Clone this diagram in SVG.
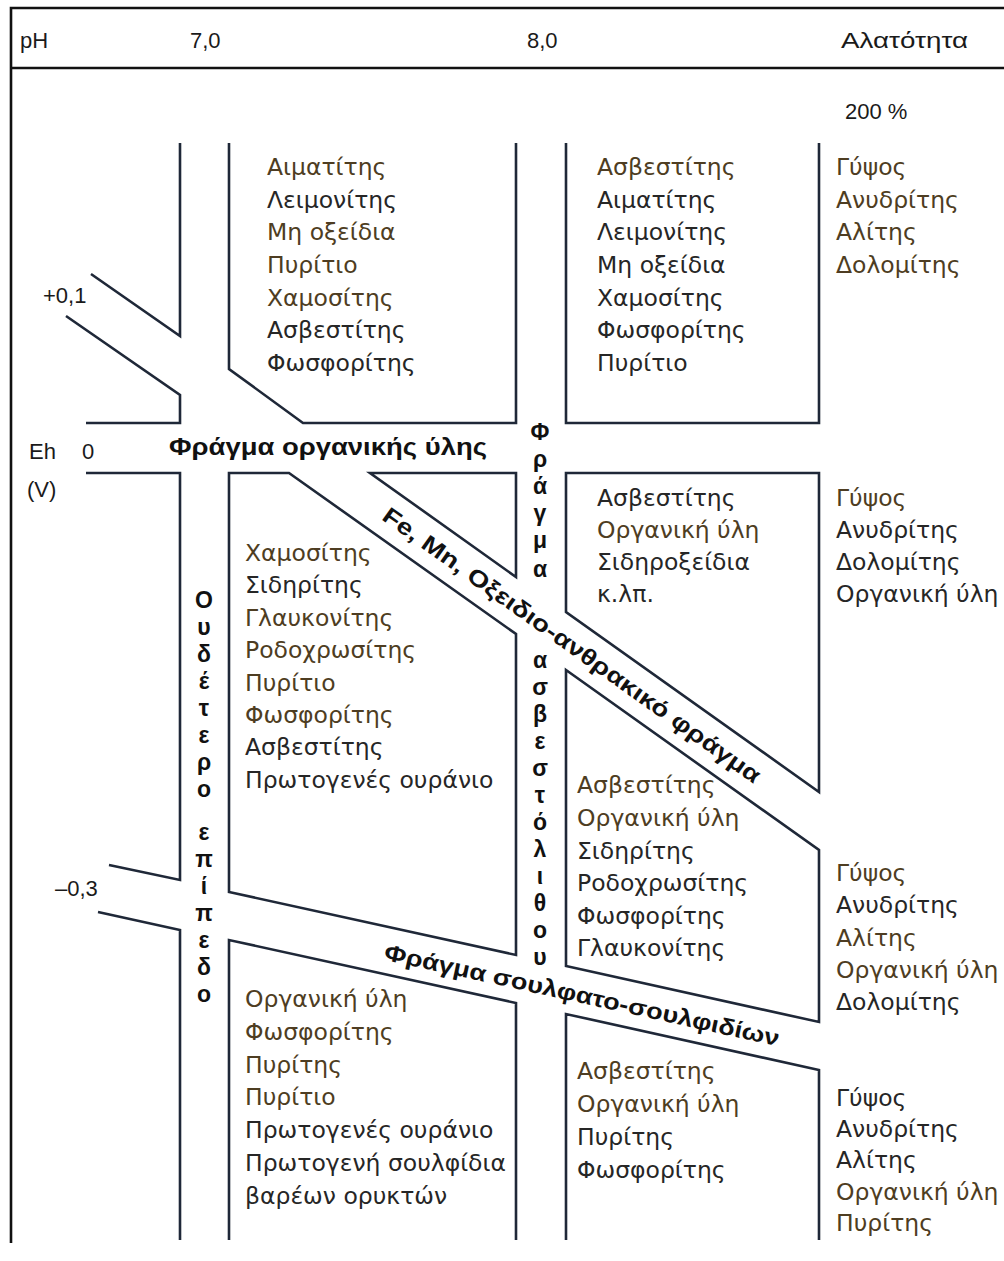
<svg xmlns="http://www.w3.org/2000/svg" width="1004" height="1261" viewBox="0 0 1004 1261">
<style>
.ln{fill:none;stroke:#1f2838;stroke-width:2.6;stroke-linejoin:miter}
.fr{fill:none;stroke:#111;stroke-width:2.6}
.hd{font-family:"Liberation Sans",Arial,sans-serif;font-size:22px;fill:#1a1a1a}
.m{font-family:"DejaVu Sans","Noto Sans",sans-serif;font-size:23.5px;fill:#262626}
.b{fill:#4e3d22}
.bd{font-family:"Liberation Sans",Arial,sans-serif;font-size:23px;font-weight:bold;fill:#111}
.vt{font-family:"Liberation Sans",Arial,sans-serif;font-size:23px;font-weight:bold;fill:#111;text-anchor:middle}
</style>
<rect width="1004" height="1261" fill="#ffffff"/>
<g id="frame">
<path class="fr" d="M1004,8 H11 V1243"/>
<path class="fr" d="M11,68 H1004"/>
</g>
<g id="header">
<text class="hd" x="20" y="48">pH</text>
<text class="hd" x="190" y="48">7,0</text>
<text class="hd" x="527" y="48">8,0</text>
<text class="hd" x="841" y="48" textLength="127" lengthAdjust="spacingAndGlyphs">Αλατότητα</text>
<text class="hd" x="845" y="119">200 %</text>
</g>
<g id="axis">
<text class="hd" x="43" y="303">+0,1</text>
<text class="hd" x="29" y="459">Eh</text>
<text class="hd" x="82" y="459">0</text>
<text class="hd" x="27" y="497">(V)</text>
<text class="hd" x="55" y="896">–0,3</text>
</g>
<g id="connectors">
<path class="ln" d="M180,143 V336 L91,274"/>
<path class="ln" d="M66,316 L180,395 V423 H86"/>
<path class="ln" d="M86,473 H180 V880 L109,865"/>
<path class="ln" d="M98,912 L180,930 V1240"/>
<path class="ln" d="M229,143 V369 L303,423 H516 V143"/>
<path class="ln" d="M566,143 V423 H819 V143"/>
<path class="ln" d="M289,473 L516,634 V955 L229,892 V473 Z"/>
<path class="ln" d="M370,473 H516 V577 Z"/>
<path class="ln" d="M566,612 V473 H819 V792 Z"/>
<path class="ln" d="M566,670 L819,850 V1022 L566,966 Z"/>
<path class="ln" d="M229,1240 V940 L516,1003 V1240"/>
<path class="ln" d="M566,1240 V1014 L819,1070 V1240"/>
</g>
<g id="barrier-organic">
<text class="bd" x="169" y="455" textLength="318" lengthAdjust="spacingAndGlyphs">Φράγμα οργανικής ύλης</text>
</g>
<g id="barrier-fe-mn">
<text class="bd" transform="translate(572,645) rotate(35.4)" x="0" y="8" text-anchor="middle" textLength="458" lengthAdjust="spacingAndGlyphs">Fe, Mn, Οξειδιο-ανθρακικό φράγμα</text>
</g>
<g id="barrier-sulfate">
<text class="bd" transform="translate(582,995) rotate(12.4)" x="0" y="8" text-anchor="middle" textLength="404" lengthAdjust="spacingAndGlyphs">Φράγμα σουλφατο-σουλφιδίων</text>
</g>
<g id="barrier-limestone">
<text class="vt"><tspan x="540" y="440">Φ</tspan><tspan x="540" y="467">ρ</tspan><tspan x="540" y="494">ά</tspan><tspan x="540" y="521">γ</tspan><tspan x="540" y="548">μ</tspan><tspan x="540" y="577">α</tspan><tspan x="540" y="668">α</tspan><tspan x="540" y="695">σ</tspan><tspan x="540" y="722">β</tspan><tspan x="540" y="749">ε</tspan><tspan x="540" y="776">σ</tspan><tspan x="540" y="803">τ</tspan><tspan x="540" y="830">ό</tspan><tspan x="540" y="857">λ</tspan><tspan x="540" y="884">ι</tspan><tspan x="540" y="911">θ</tspan><tspan x="540" y="938">ο</tspan><tspan x="540" y="965">υ</tspan></text>
</g>
<g id="neutral-plane">
<text class="vt"><tspan x="204" y="608">Ο</tspan><tspan x="204" y="635">υ</tspan><tspan x="204" y="662">δ</tspan><tspan x="204" y="689">έ</tspan><tspan x="204" y="716">τ</tspan><tspan x="204" y="743">ε</tspan><tspan x="204" y="770">ρ</tspan><tspan x="204" y="797">ο</tspan><tspan x="204" y="840">ε</tspan><tspan x="204" y="867">π</tspan><tspan x="204" y="894">ί</tspan><tspan x="204" y="921">π</tspan><tspan x="204" y="948">ε</tspan><tspan x="204" y="975">δ</tspan><tspan x="204" y="1002">ο</tspan></text>
</g>
<g id="box-top-left">
<text class="m"><tspan x="267" y="175" class="b">Αιματίτης</tspan><tspan x="267" y="208">Λειμονίτης</tspan><tspan x="267" y="240" class="b">Μη οξείδια</tspan><tspan x="267" y="273" class="b">Πυρίτιο</tspan><tspan x="267" y="306" class="b">Χαμοσίτης</tspan><tspan x="267" y="338">Ασβεστίτης</tspan><tspan x="267" y="371">Φωσφορίτης</tspan></text>
</g>
<g id="box-top-right">
<text class="m"><tspan x="597" y="175" class="b">Ασβεστίτης</tspan><tspan x="597" y="208">Αιματίτης</tspan><tspan x="597" y="240">Λειμονίτης</tspan><tspan x="597" y="273">Μη οξείδια</tspan><tspan x="597" y="306">Χαμοσίτης</tspan><tspan x="597" y="338">Φωσφορίτης</tspan><tspan x="597" y="371">Πυρίτιο</tspan></text>
</g>
<g id="col-top">
<text class="m b"><tspan x="836" y="175">Γύψος</tspan><tspan x="836" y="208">Ανυδρίτης</tspan><tspan x="836" y="240">Αλίτης</tspan><tspan x="836" y="273">Δολομίτης</tspan></text>
</g>
<g id="box-mid-left">
<text class="m"><tspan x="245" y="561" class="b">Χαμοσίτης</tspan><tspan x="245" y="593">Σιδηρίτης</tspan><tspan x="245" y="626" class="b">Γλαυκονίτης</tspan><tspan x="245" y="658" class="b">Ροδοχρωσίτης</tspan><tspan x="245" y="691" class="b">Πυρίτιο</tspan><tspan x="245" y="723" class="b">Φωσφορίτης</tspan><tspan x="245" y="755">Ασβεστίτης</tspan><tspan x="245" y="788">Πρωτογενές ουράνιο</tspan></text>
</g>
<g id="box-mid-right-upper">
<text class="m"><tspan x="597" y="506">Ασβεστίτης</tspan><tspan x="597" y="538" class="b">Οργανική ύλη</tspan><tspan x="597" y="570">Σιδηροξείδια</tspan><tspan x="597" y="602">κ.λπ.</tspan></text>
</g>
<g id="col-mid-upper">
<text class="m"><tspan x="836" y="506" class="b">Γύψος</tspan><tspan x="836" y="538">Ανυδρίτης</tspan><tspan x="836" y="570">Δολομίτης</tspan><tspan x="836" y="602">Οργανική ύλη</tspan></text>
</g>
<g id="box-mid-right-lower">
<text class="m"><tspan x="577" y="793" class="b">Ασβεστίτης</tspan><tspan x="577" y="826" class="b">Οργανική ύλη</tspan><tspan x="577" y="859">Σιδηρίτης</tspan><tspan x="577" y="891">Ροδοχρωσίτης</tspan><tspan x="577" y="924">Φωσφορίτης</tspan><tspan x="577" y="956">Γλαυκονίτης</tspan></text>
</g>
<g id="col-mid-lower">
<text class="m"><tspan x="836" y="881" class="b">Γύψος</tspan><tspan x="836" y="913">Ανυδρίτης</tspan><tspan x="836" y="946" class="b">Αλίτης</tspan><tspan x="836" y="978" class="b">Οργανική ύλη</tspan><tspan x="836" y="1010">Δολομίτης</tspan></text>
</g>
<g id="box-bottom-left">
<text class="m"><tspan x="245" y="1007" class="b">Οργανική ύλη</tspan><tspan x="245" y="1040" class="b">Φωσφορίτης</tspan><tspan x="245" y="1073" class="b">Πυρίτης</tspan><tspan x="245" y="1105" class="b">Πυρίτιο</tspan><tspan x="245" y="1138">Πρωτογενές ουράνιο</tspan><tspan x="245" y="1171">Πρωτογενή σουλφίδια</tspan><tspan x="245" y="1204">βαρέων ορυκτών</tspan></text>
</g>
<g id="box-bottom-right">
<text class="m"><tspan x="577" y="1079" class="b">Ασβεστίτης</tspan><tspan x="577" y="1112" class="b">Οργανική ύλη</tspan><tspan x="577" y="1145">Πυρίτης</tspan><tspan x="577" y="1178">Φωσφορίτης</tspan></text>
</g>
<g id="col-bottom">
<text class="m"><tspan x="836" y="1106">Γύψος</tspan><tspan x="836" y="1137">Ανυδρίτης</tspan><tspan x="836" y="1168">Αλίτης</tspan><tspan x="836" y="1200" class="b">Οργανική ύλη</tspan><tspan x="836" y="1231" class="b">Πυρίτης</tspan></text>
</g>
</svg>
